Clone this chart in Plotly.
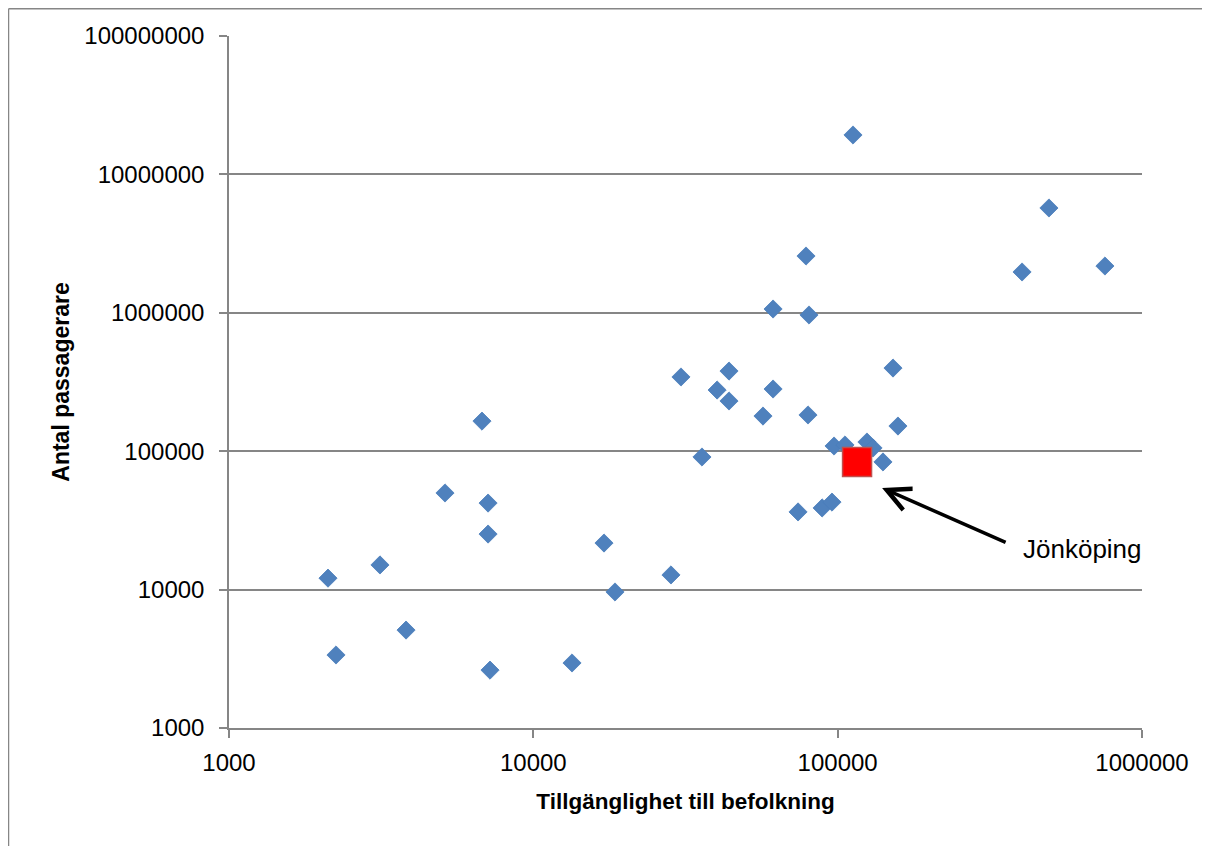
import plotly.graph_objects as go

# Tillgänglighet till befolkning (x) and Antal passagerare (y) per airport
tillganglighet = [2115, 2247, 3134, 3817, 5126, 6780, 7100, 7100, 7206, 13400,
                  17070, 18550, 28330, 30560, 35820, 40170, 43950, 43950, 56840, 61340,
                  61340, 78700, 80500, 79900, 74100, 88900, 95800, 97300, 112300, 105700,
                  124800, 130700, 140900, 157800, 152000, 403500, 494600, 755500]
passagerare = [12100, 3370, 15070, 5100, 49900, 165000, 42200, 25200, 2620, 2950,
               21700, 9610, 12760, 343700, 90800, 276700, 379500, 230600, 179500, 1065000,
               281400, 2572000, 964000, 182700, 36400, 38900, 42900, 109000, 19260000, 110900,
               116500, 105500, 83600, 152000, 399000, 1972000, 5720000, 2178000]

jonkoping_x = [115800]
jonkoping_y = [83600]
jonkoping_label = "Jönköping"

x_ticks = [1000, 10000, 100000, 1000000]
y_ticks = [1000, 10000, 100000, 1000000, 10000000, 100000000]

x_title = "Tillgänglighet till befolkning"
y_title = "Antal passagerare"

FONT = "Liberation Sans"
GRID = "#868686"

fig = go.Figure()
fig.add_trace(go.Scatter(
    x=tillganglighet, y=passagerare, mode="markers",
    marker=dict(symbol="diamond", size=14, color="#4F81BD",
                line=dict(color="#4A7EBB", width=0.8)),
    showlegend=False, hoverinfo="x+y"))
fig.add_trace(go.Scatter(
    x=jonkoping_x, y=jonkoping_y, mode="markers",
    marker=dict(symbol="square", size=29, color="#FF0000",
                line=dict(color="#C0504D", width=1.5)),
    showlegend=False, hoverinfo="x+y"))

fig.update_xaxes(
    type="log", range=[3, 6], tickvals=x_ticks, ticktext=[str(v) for v in x_ticks],
    showgrid=False, showline=True, linecolor=GRID, linewidth=1.5,
    ticks="outside", ticklen=8, tickcolor=GRID, tickwidth=1.5,
    ticklabelstandoff=4,
    tickfont=dict(family=FONT, size=24, color="#000000"),
    title=dict(text=x_title, font=dict(family=FONT, size=22.5, color="#000000",
                                       weight="bold"), standoff=19),
    zeroline=False, mirror=False)
fig.update_yaxes(
    type="log", range=[3, 8], tickvals=y_ticks, ticktext=[str(v) for v in y_ticks],
    showgrid=True, gridcolor=GRID, gridwidth=1.5,
    showline=True, linecolor=GRID, linewidth=1.5,
    ticks="outside", ticklen=8, tickcolor=GRID, tickwidth=1.5,
    ticklabelstandoff=10,
    tickfont=dict(family=FONT, size=24, color="#000000"),
    title=dict(text=y_title, font=dict(family=FONT, size=23, color="#000000",
                                       weight="bold"), standoff=8),
    zeroline=False)

# arrow pointing at Jönköping
fig.add_annotation(
    x=5.146, y=4.734, xref="x", yref="y", ax=125, ay=55,
    text="", showarrow=True, arrowhead=5, arrowsize=1.3, arrowwidth=3.5,
    arrowcolor="#000000")
fig.add_annotation(
    x=5.803, y=4.293, xref="x", yref="y", text=jonkoping_label, showarrow=False,
    font=dict(family=FONT, size=26, color="#000000"))

# outer chart border (left and top edges only are visible)
fig.add_shape(type="line", xref="paper", yref="paper",
              x0=-0.2415, x1=-0.2415, y0=-0.4, y1=1.0394,
              line=dict(color="#868686", width=1.5), layer="below")
fig.add_shape(type="line", xref="paper", yref="paper",
              x0=-0.2415, x1=1.3, y0=1.0394, y1=1.0394,
              line=dict(color="#868686", width=1.5), layer="below")

fig.update_layout(
    width=1194, height=846, autosize=False,
    margin=dict(l=221, r=60, t=28, b=126),
    plot_bgcolor="#FFFFFF", paper_bgcolor="#FFFFFF",
    font=dict(family=FONT, color="#000000"))

fig.write_html("out.html")
